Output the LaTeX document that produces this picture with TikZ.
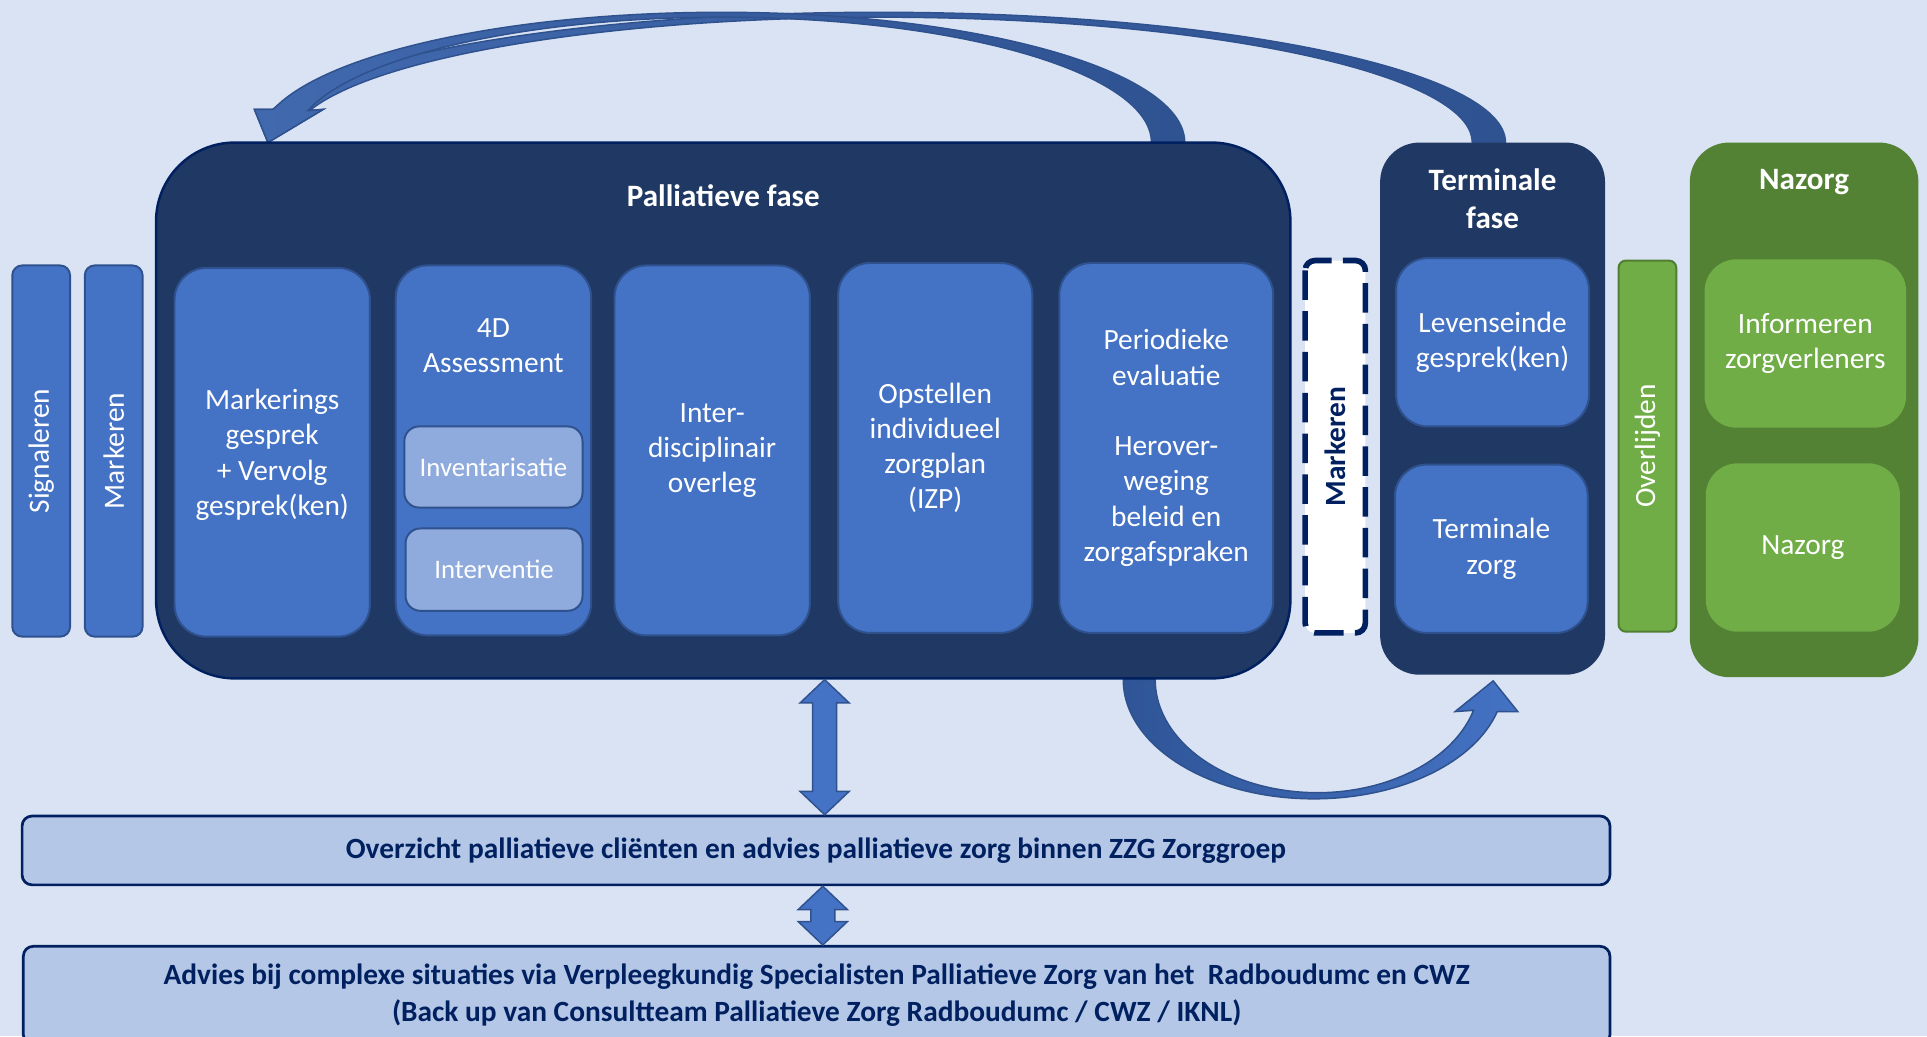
\documentclass[tikz,border=0pt]{standalone}
\usepackage{fontspec}
\setmainfont{Carlito}
\usetikzlibrary{calc}

\definecolor{bgblue}{HTML}{DAE3F3}
\definecolor{navy}{HTML}{203864}
\definecolor{navyline}{HTML}{002060}
\definecolor{midblue}{HTML}{4472C4}
\definecolor{midline}{HTML}{2F528F}
\definecolor{paleblue}{HTML}{8FAADC}
\definecolor{panelblue}{HTML}{B4C7E7}
\definecolor{lightgreen}{HTML}{70AD47}
\definecolor{greenline}{HTML}{507E32}
\definecolor{darkgreen}{HTML}{548235}
\definecolor{arrowdark}{HTML}{2F5597}
\definecolor{arrowlight}{HTML}{4169AE}
\definecolor{arrowdeep}{HTML}{2F5291}

\newlength{\unitpx}
\setlength{\unitpx}{0.25mm}
\def\bodyfont{\fontsize{17}{20.4}\selectfont}
\def\subfont{\fontsize{15.5}{19}\selectfont}
\def\titlefont{\fontsize{18}{22}\selectfont\bfseries}
\def\panelfont{\fontsize{17}{21.3}\selectfont\bfseries}

% block double arrow from top point #1 down to bottom point #2
\def\vdarrow#1#2{\path[blockarrow] let \p1=#1, \p2=#2 in
  (\x1,\y1) -- (\x1+5mm,\y1-4.75mm) -- (\x1+2.44mm,\y1-4.75mm) -- (\x1+2.44mm,\y2+4.75mm)
  -- (\x1+5mm,\y2+4.75mm) -- (\x1,\y2) -- (\x1-5mm,\y2+4.75mm) -- (\x1-2.44mm,\y2+4.75mm)
  -- (\x1-2.44mm,\y1-4.75mm) -- (\x1-5mm,\y1-4.75mm) -- cycle;}

\tikzset{
  phasebox/.style={draw=navyline, line width=0.5mm, fill=navy, rounded corners=16mm},
  stepbox/.style={draw=midline, line width=0.4mm, fill=midblue, rounded corners=6.5mm,
    text=white, align=center, font=\bodyfont},
  subbox/.style={draw=midline, line width=0.4mm, fill=paleblue, rounded corners=3mm,
    text=white, font=\subfont},
  sidebar/.style={draw=midline, line width=0.4mm, fill=midblue, rounded corners=2mm,
    text=white, font=\bodyfont, rotate=90},
  greenbar/.style={sidebar, draw=greenline, fill=lightgreen, rounded corners=1.5mm},
  greenstep/.style={stepbox, draw=none, fill=lightgreen},
  markbox/.style={draw=navyline, line width=1.15mm, dash pattern=on 6mm off 2.3mm, fill=white,
    rounded corners=2mm, text=navyline, font=\bodyfont\bfseries, rotate=90},
  titletext/.style={text=white, align=center, font=\titlefont},
  steptext/.style={text=white, align=center, font=\bodyfont},
  panel/.style={draw=navyline, line width=0.55mm, fill=panelblue, rounded corners=2mm,
    text=navyline, align=center, font=\panelfont},
  blockarrow/.style={draw=midline, line width=0.3mm, fill=midblue},
  toparrow/.style={draw=midline, line width=0.3mm, left color=arrowlight, right color=arrowdeep},
  lowarrow/.style={draw=midline, line width=0.3mm, left color=arrowdark, right color=midblue}
}

\begin{document}
\begin{tikzpicture}[x=0.25mm, y=-0.25mm]
  %%%%% START %%%%%
  \useasboundingbox (0,0) rectangle (1568,843);
  \fill[bgblue] (0,0) rectangle (1568,843);

  % curved arrows over the top
  \path[toparrow] (1225,116) arc[start angle=0, end angle=165.25, x radius=127.5mm, y radius=26.5mm]
    -- (207,89) -- (218,116) -- (263,89) -- (251.9,90)
    arc[start angle=165.23, end angle=0, x radius=120.25mm, y radius=25.5mm] -- cycle;
  \path[toparrow] (964,116) arc[start angle=0, end angle=165.25, x radius=94.25mm, y radius=26.5mm]
    -- (207,89) -- (218,116) -- (263,89) -- (250.5,90)
    arc[start angle=165.23, end angle=0, x radius=87.25mm, y radius=25.5mm] -- cycle;

  % curved arrow underneath
  \path[lowarrow] (914,553) arc[start angle=180, end angle=344.45, x radius=38.75mm, y radius=24.25mm]
    -- (1235,579) -- (1215,554) -- (1184,579) -- (1199,578)
    arc[start angle=344.23, end angle=180, x radius=33mm, y radius=23mm] -- cycle;

  % left bars
  \node[sidebar, minimum width=302\unitpx, minimum height=47\unitpx] (sig) at (33.5,367) {Signaleren};
  \node[sidebar, minimum width=302\unitpx, minimum height=47\unitpx] (mrk) at (92.5,367) {Markeren};

  % palliatieve fase
  \node[phasebox, minimum width=923\unitpx, minimum height=436\unitpx] (pal) at (588.5,334) {};
  \node[titletext] (paltitle) at ($(pal.north)+(0,44)$) {Palliatieve fase};

  \node[stepbox, minimum width=159\unitpx, minimum height=300\unitpx] (mkg) at (221.5,368) {};
  \node[steptext] (mkgtext) at ($(mkg)+(0,2)$) {Markerings\\gesprek\\+ Vervolg\\gesprek(ken)};
  \node[stepbox, minimum width=159\unitpx, minimum height=301\unitpx] (ass) at (401.5,366.5) {};
  \node[steptext] (asstitle) at ($(ass.north)+(0,66)$) {4D\\Assessment};
  \node[subbox, minimum width=145\unitpx, minimum height=66\unitpx] (inv) at (401.5,380) {Inventarisatie};
  \node[subbox, minimum width=144\unitpx, minimum height=67\unitpx] (itv) at (402,463.5) {Interventie};
  \node[stepbox, minimum width=159\unitpx, minimum height=301\unitpx] (ido) at (579.5,366.5)
    {Inter-\\disciplinair\\overleg};
  \node[stepbox, minimum width=158\unitpx, minimum height=301\unitpx] (izp) at (761,364.5)
    {Opstellen\\individueel\\zorgplan\\(IZP)};
  \node[stepbox, minimum width=174\unitpx, minimum height=301\unitpx] (per) at (949,364.5)
    {Periodieke\\evaluatie\\~\\Herover-\\weging\\beleid en\\zorgafspraken};

  % second marking
  \node[markbox, minimum width=303\unitpx, minimum height=49\unitpx] (mrk2) at (1086.5,363.5) {Markeren};

  % terminale fase
  \node[phasebox, draw=none, rounded corners=8mm, minimum width=183\unitpx, minimum height=433\unitpx] (term) at (1214.5,332.5) {};
  \node[titletext] (termtitle) at ($(term.north)+(0,46.5)$) {Terminale\\fase};
  \node[stepbox, minimum width=157\unitpx, minimum height=137\unitpx] (lev) at (1214.5,278.5)
    {Levenseinde\\gesprek(ken)};
  \node[stepbox, minimum width=157\unitpx, minimum height=137\unitpx] (tzg) at (1213.5,446.5)
    {Terminale\\zorg};

  \node[greenbar, minimum width=302\unitpx, minimum height=47\unitpx] (ovl) at (1340.5,363) {Overlijden};

  % nazorg
  \node[phasebox, draw=none, fill=darkgreen, rounded corners=8mm, minimum width=186\unitpx, minimum height=435\unitpx] (naz) at (1468,333.5) {};
  \node[titletext] (naztitle) at ($(naz.north)+(0,33)$) {Nazorg};
  \node[greenstep, minimum width=164\unitpx, minimum height=137\unitpx] (inf) at (1469,279.5)
    {Informeren\\zorgverleners};
  \node[greenstep, minimum width=158\unitpx, minimum height=137\unitpx] (nzg) at (1467,445.5) {Nazorg};

  % bottom panels
  \node[panel, minimum width=1292\unitpx, minimum height=56\unitpx] (ovz) at (664,692)
    {Overzicht palliatieve cliënten en advies palliatieve zorg binnen ZZG Zorggroep};
  \node[panel, minimum width=1291\unitpx, minimum height=80\unitpx] (adv) at (664.5,810)
    {Advies bij complexe situaties via Verpleegkundig Specialisten Palliatieve Zorg van het~ Radboudumc en CWZ\\
     (Back up van Consultteam Palliatieve Zorg Radboudumc / CWZ / IKNL)};

  \vdarrow{($(pal.south)+(82.5,0)$)}{(ovz.north)}
  \vdarrow{($(ovz.south)+(5.5,0)$)}{(adv.north)}
  %%%%% END %%%%%
\end{tikzpicture}
\end{document}
